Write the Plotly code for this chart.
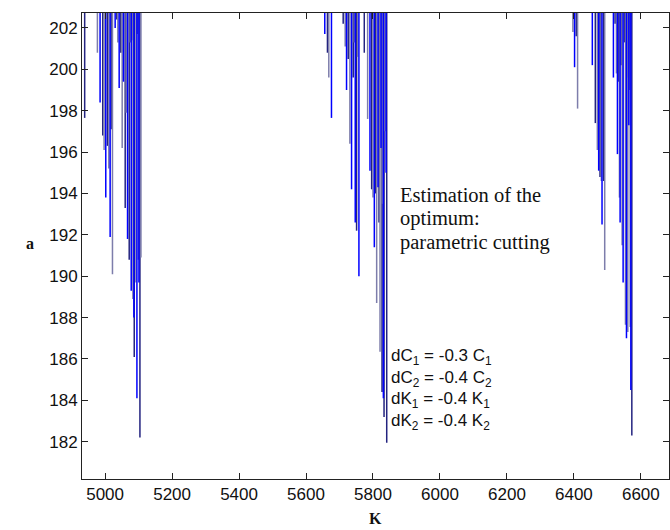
import plotly.graph_objects as go

# Cutting parameter K and corresponding lower bound of a (lines drop from the top edge)
k_cluster1 = [4939, 4977, 4985, 4993, 4997, 5002, 5007, 5011, 5015, 5018, 5022, 5030,
              5035, 5038, 5042, 5047, 5051, 5055, 5060, 5063, 5067, 5072, 5075, 5078,
              5081, 5083, 5086, 5087, 5092, 5095, 5096, 5099, 5101, 5104, 5107]
a_cluster1 = [197.65, 200.8, 198.4, 196.8, 196.1, 193.8, 196.3, 195.2, 191.9, 197.1, 190.1, 202.0,
              202.4, 201.3, 199.1, 200.8, 196.2, 199.4, 193.3, 197.9, 191.8, 190.8, 201.3, 189.3,
              201.4, 188.9, 188.0, 186.1, 189.7, 184.1, 201.7, 190.8, 189.7, 182.2, 190.9]

k_cluster2 = [5656, 5664, 5668, 5676, 5711, 5717, 5721, 5726, 5731, 5736, 5741, 5744,
              5747, 5751, 5754, 5758, 5774, 5784, 5791, 5796, 5800, 5804, 5808, 5811,
              5815, 5818, 5821, 5824, 5827, 5828, 5831, 5833, 5836, 5839, 5841]
a_cluster2 = [201.7, 200.8, 199.6, 197.65, 202.2, 201.1, 199.0, 200.5, 196.4, 194.2, 199.6, 201.3,
              192.6, 192.2, 200.6, 190.0, 200.8, 197.6, 195.1, 194.2, 193.8, 191.4, 194.0, 188.7,
              194.3, 192.6, 186.35, 196.2, 184.4, 193.5, 184.1, 183.2, 197.0, 195.0, 181.95]

k_cluster3 = [6397, 6402, 6407, 6411, 6455, 6464, 6470, 6474, 6478, 6482, 6484, 6489,
              6492, 6518, 6523, 6527, 6530, 6533, 6536, 6538, 6541, 6544, 6547, 6551,
              6554, 6557, 6559, 6561, 6564, 6566, 6568, 6570, 6573]
a_cluster3 = [201.8, 200.1, 201.6, 198.1, 200.2, 197.4, 196.1, 195.1, 194.8, 194.6, 192.5, 194.6,
              190.3, 199.6, 202.2, 199.8, 195.9, 199.4, 193.8, 192.6, 200.2, 191.5, 189.7, 201.3,
              187.65, 187.0, 199.6, 187.3, 197.3, 199.0, 187.55, 184.5, 182.3]

x_ticks = [5000, 5200, 5400, 5600, 5800, 6000, 6200, 6400, 6600]
y_ticks = [182, 184, 186, 188, 190, 192, 194, 196, 198, 200, 202]

x_range = [4931, 6684]
y_range = [180.2, 202.72]
y_top = 204.0

note_text = ["Estimation of the", "optimum:", "parametric cutting"]
param_text = ["dC<sub>1</sub> = -0.3 C<sub>1</sub>",
              "dC<sub>2</sub> = -0.4 C<sub>2</sub>",
              "dK<sub>1</sub> = -0.4 K<sub>1</sub>",
              "dK<sub>2</sub> = -0.4 K<sub>2</sub>"]

palette = ["#23237f", "#7d7dab", "#0000ff"]

all_k = k_cluster1 + k_cluster2 + k_cluster3
all_a = a_cluster1 + a_cluster2 + a_cluster3

fig = go.Figure()
for ci, col in enumerate(palette):
    xs, ys = [], []
    for i, (k, a) in enumerate(zip(all_k, all_a)):
        if i % len(palette) == ci:
            xs += [k, k, None]
            ys += [y_top, a, None]
    fig.add_trace(go.Scatter(x=xs, y=ys, mode="lines",
                             line=dict(color=col, width=1.5),
                             hoverinfo="skip", showlegend=False))

tick_font = dict(family="Liberation Sans, Arial, sans-serif", size=17, color="#111111")

fig.update_layout(
    width=670, height=530,
    margin=dict(l=82, r=1, t=13, b=51),
    paper_bgcolor="white", plot_bgcolor="white",
    showlegend=False,
    xaxis=dict(range=x_range, tickvals=x_ticks, ticktext=[str(v) for v in x_ticks],
               ticks="inside", ticklen=6, tickcolor="#222222",
               showline=True, linecolor="#222222", linewidth=1, mirror="ticks",
               showgrid=False, zeroline=False, tickfont=tick_font),
    yaxis=dict(range=y_range, tickvals=y_ticks, ticktext=[str(v) for v in y_ticks],
               ticks="inside", ticklen=6, tickcolor="#222222",
               showline=True, linecolor="#222222", linewidth=1, mirror="ticks",
               showgrid=False, zeroline=False, tickfont=tick_font),
)

serif = "Liberation Serif, Times New Roman, serif"
for i, t in enumerate(note_text):
    fig.add_annotation(text=t, xref="paper", yref="paper",
                       x=(398 - 82) / 587, y=1 - (195 + i * 23.5 - 13) / 466,
                       xanchor="left", yanchor="middle", showarrow=False,
                       font=dict(family=serif, size=20.5, color="#111111"))

for i, t in enumerate(param_text):
    fig.add_annotation(text=t, xref="paper", yref="paper",
                       x=(389 - 82) / 587, y=1 - (357 + i * 21.7 - 13) / 466,
                       xanchor="left", yanchor="middle", showarrow=False,
                       font=dict(family="Liberation Sans, Arial, sans-serif", size=17, color="#111111"))

fig.add_annotation(text="<b>a</b>", xref="paper", yref="paper",
                   x=(30 - 82) / 587, y=1 - (243 - 13) / 466,
                   xanchor="center", yanchor="middle", showarrow=False,
                   font=dict(family=serif, size=16, color="#111111"))
fig.add_annotation(text="<b>K</b>", xref="paper", yref="paper",
                   x=(375 - 82) / 587, y=1 - (518 - 13) / 466,
                   xanchor="center", yanchor="middle", showarrow=False,
                   font=dict(family=serif, size=16, color="#111111"))

fig.write_html("out.html")
